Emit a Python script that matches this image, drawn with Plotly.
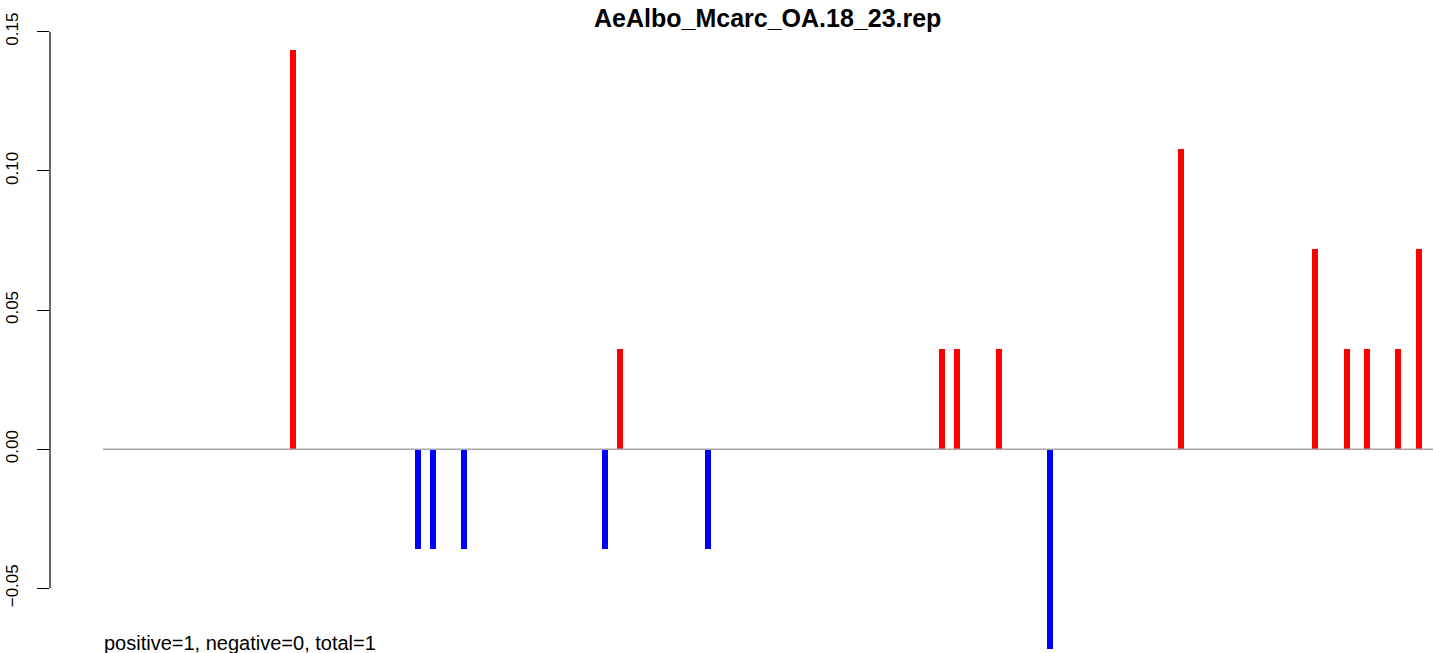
import plotly.graph_objects as go

title_text = "AeAlbo_Mcarc_OA.18_23.rep"
footer_text = "positive=1, negative=0, total=1"

# bar positions (arbitrary position units along the sequence) and values
positions = [190, 315, 330, 361, 502, 517, 605, 839, 854, 896, 947, 1078, 1212, 1244, 1264, 1295, 1316]
values = [0.1436, -0.0359, -0.0359, -0.0359, -0.0359, 0.0359, -0.0359, 0.0359, 0.0359, 0.0359,
          -0.0718, 0.1077, 0.0718, 0.0359, 0.0359, 0.0359, 0.0718]
x_start, x_end = 0, 1330

tick_vals = [-0.05, 0.0, 0.05, 0.10, 0.15]
tick_text = ["\u22120.05", "0.00", "0.05", "0.10", "0.15"]

colors = ["#FF0000" if v > 0 else "#0000FF" for v in values]

fig = go.Figure()
fig.add_trace(go.Scatter(x=[x_start, x_end], y=[0, 0], mode="lines",
                         line=dict(color="#A6A6A6", width=1.5), hoverinfo="skip", showlegend=False))
fig.add_trace(go.Bar(x=positions, y=values, base=0, width=6, marker=dict(color=colors, line=dict(width=0)),
                     showlegend=False))

fig.add_shape(type="line", xref="paper", yref="y", x0=0, x1=0, y0=tick_vals[0], y1=tick_vals[-1],
              line=dict(color="black", width=1.2))

fig.add_annotation(text="<b>" + title_text + "</b>", xref="paper", yref="paper", x=0.519, y=1,
                   xanchor="center", yanchor="top", yshift=-2, showarrow=False,
                   font=dict(family="Liberation Sans", size=25, color="black"))
fig.add_annotation(text=footer_text, xref="paper", yref="paper", x=(102 - 50) / 1383, y=0,
                   xanchor="left", yanchor="bottom", yshift=-3, showarrow=False,
                   font=dict(family="Liberation Sans", size=20, color="black"))

fig.update_layout(
    width=1433, height=653,
    margin=dict(l=50, r=0, t=0, b=0),
    paper_bgcolor="white", plot_bgcolor="white",
    bargap=0,
    xaxis=dict(range=[-53, 1330], visible=False, fixedrange=True),
    yaxis=dict(range=[-0.07325, 0.1614], tickvals=tick_vals, ticktext=tick_text,
               ticks="outside", ticklen=12, tickcolor="black", tickwidth=1.2,
               tickangle=-90, ticklabelstandoff=12,
               tickfont=dict(family="Liberation Sans", size=17, color="black"),
               showgrid=False, zeroline=False, showline=False, fixedrange=True),
)

fig.write_html("out.html", config={"displayModeBar": False},
               post_script="document.body.style.margin='0';document.body.style.overflow='hidden';")
